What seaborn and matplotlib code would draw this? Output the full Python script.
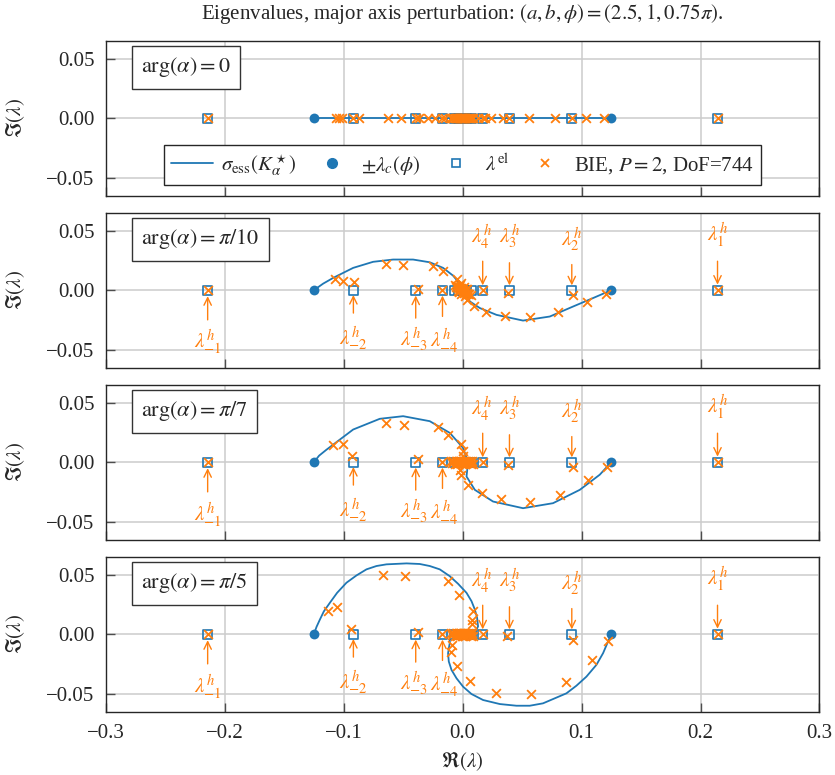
import numpy as np
import seaborn as sns
import matplotlib
matplotlib.use("Agg")
import matplotlib.pyplot as plt
from matplotlib.lines import Line2D

# ---- data ----
panel_labels = [r"$\arg(\alpha)=0$", r"$\arg(\alpha)=\pi/10$",
                r"$\arg(\alpha)=\pi/7$", r"$\arg(\alpha)=\pi/5$"]

lam_c = [-0.125, 0.125]
lam_el = [-0.2143, -0.0918, -0.0394, -0.0169, -0.0072, -0.0031, -0.0013, -0.0006,
          0.0006, 0.0013, 0.0031, 0.0072, 0.0169, 0.0394, 0.0918, 0.2143]

# essential spectrum curves
curve0_x = [-0.125, 0.125]
curve0_y = [0.0, 0.0]
curve1_x = [-0.125, -0.1172, -0.1088, -0.092, -0.0752, -0.0584, -0.0416, -0.0276, -0.0164, -0.008,
            -0.0024, 0.0018, 0.006, 0.0145, 0.0285, 0.0508, 0.0733, 0.0929, 0.1097, 0.125]
curve1_y = [0.0, 0.0055, 0.0103, 0.0187, 0.0238, 0.0257, 0.0257, 0.0234, 0.0187, 0.0122,
            0.0055, -0.001, -0.0094, -0.015, -0.0207, -0.0255, -0.0221, -0.0137, -0.0066, 0.0]
curve2_x = [-0.125, -0.1206, -0.1144, -0.092, -0.0696, -0.050, -0.0276, -0.0108, 0.0004, 0.0046,
            0.0033, 0.0103, 0.0256, 0.0508, 0.076, 0.0985, 0.1153, 0.125]
curve2_y = [0.0, 0.0055, 0.0105, 0.0274, 0.0364, 0.0386, 0.0344, 0.0246, 0.012, 0.0,
            -0.012, -0.0232, -0.033, -0.0386, -0.0344, -0.0232, -0.0105, 0.0]
curve3_x = [-0.125, -0.1228, -0.12, -0.1166, -0.1116, -0.1055, -0.0976, -0.0892, -0.0808, -0.0724,
            -0.064, -0.0471, -0.036, -0.0276, -0.0192, -0.0108, -0.0038, 0.0033, 0.0075, 0.0103,
            0.0122, 0.013, 0.0105, 0.0, -0.0105, -0.0108, -0.0122, -0.0116, -0.0093, -0.0051,
            0.0004, 0.0075, 0.0172, 0.0313, 0.0453, 0.0565, 0.0676, 0.0873, 0.0957, 0.1041,
            0.1125, 0.1181, 0.1223, 0.125]
curve3_y = [0.0, 0.0061, 0.0122, 0.0192, 0.0263, 0.0347, 0.0432, 0.0493, 0.0544, 0.0572,
            0.0586, 0.0594, 0.0589, 0.0572, 0.0544, 0.0487, 0.0423, 0.0347, 0.0277, 0.0207,
            0.0137, 0.0066, 0.001, 0.0, -0.001, -0.0074, -0.0159, -0.0229, -0.030, -0.037,
            -0.044, -0.0502, -0.0552, -0.0586, -0.060, -0.060, -0.058, -0.0496, -0.0432, -0.0356,
            -0.0257, -0.0159, -0.0061, 0.0]

# dense cluster of BIE eigenvalues around the origin
blob_x = [-0.0100, -0.0088, -0.0077, -0.0067, -0.0058, -0.0050, -0.0043, -0.0036, -0.0030, -0.0025,
          -0.0020, -0.0015, -0.0011, -0.0007, -0.0004, -0.0001, 0.0002, 0.0005, 0.0009, 0.0013,
          0.0018, 0.0023, 0.0029, 0.0035, 0.0042, 0.0050, 0.0059, 0.0068, 0.0078, 0.0088]
blob_y = [0.0012, -0.0010, 0.0014, -0.0012, 0.0010, -0.0014, 0.0008, -0.0008, 0.0012, -0.0010,
          0.0006, -0.0006, 0.0010, -0.0012, 0.0004, -0.0004, 0.0008, -0.0010, 0.0012, -0.0008,
          0.0006, -0.0012, 0.0010, -0.0006, 0.0012, -0.0010, 0.0008, -0.0014, 0.0010, -0.0012]
blob1_x = [-0.0068, -0.0055, -0.0045, -0.0036, -0.0028, -0.0020, -0.0012, -0.0005, 0.0, 0.0005,
           0.0012, 0.0020, 0.0028, 0.0036, 0.0045, 0.0055, 0.0068, -0.0030, -0.0015, 0.0015,
           0.0030, -0.0022, 0.0022, -0.0040, 0.0040]
blob1_y = [0.0040, 0.0030, 0.0036, 0.0022, 0.0030, 0.0015, 0.0020, 0.0008, 0.0, -0.0008,
           -0.0020, -0.0015, -0.0030, -0.0022, -0.0036, -0.0030, -0.0040, -0.0012, -0.0028, 0.0028,
           0.0012, 0.0045, -0.0045, -0.0010, 0.0010]

# BIE eigenvalues away from the origin
bie0_x = [-0.2143, -0.1064, -0.1037, -0.1017, -0.0918, -0.0869, -0.0626, -0.0514, -0.0394, -0.0365,
          -0.029, -0.0234, -0.0169, -0.015, 0.013, 0.0169, 0.019, 0.0243, 0.034, 0.0394,
          0.0559, 0.0773, 0.0918, 0.1035, 0.1186, 0.2143]
bie0_y = [0.0] * len(bie0_x)
bie1_x = [-0.2143, -0.1074, -0.1009, -0.0912, -0.064, -0.050, -0.0374, -0.0248, -0.0164, -0.0169,
          -0.0051, -0.001, 0.0033, 0.0095, 0.0169, 0.020, 0.0355, 0.0383, 0.0565, 0.0803,
          0.0929, 0.1046, 0.1203, 0.2143]
bie1_y = [0.0, 0.0097, 0.008, 0.0066, 0.0223, 0.0209, 0.001, 0.0201, 0.0159, 0.0,
          0.0092, 0.006, -0.008, -0.013, 0.0, -0.0179, -0.0213, -0.0024, -0.0221, -0.0179,
          -0.0038, -0.010, -0.0032, 0.0]
bie2_x = [-0.2143, -0.1088, -0.1009, -0.0928, -0.0648, -0.0492, -0.0379, -0.0206, -0.0122, -0.0169,
          -0.001, 0.0004, 0.0002, -0.0024, -0.0017, 0.0046, 0.0159, 0.0169, 0.0327, 0.0383,
          0.0565, 0.0817, 0.0929, 0.1055, 0.121, 0.2143]
bie2_y = [0.0, 0.0148, 0.0156, 0.0049, 0.033, 0.0316, 0.003, 0.0298, 0.0232, 0.0,
          0.0152, 0.0098, 0.0055, -0.0063, -0.0105, -0.019, -0.026, 0.0, -0.031, -0.0021,
          -0.033, -0.0274, -0.004, -0.0148, -0.004, 0.0]
bie3_x = [-0.2143, -0.113, -0.1055, -0.0934, -0.0668, -0.048, -0.0379, -0.0122, -0.0029, -0.0169,
          0.009, 0.0079, 0.0079, -0.0093, -0.0096, -0.0046, 0.0066, 0.0169, 0.0285, 0.0374,
          0.0573, 0.0867, 0.0929, 0.1091, 0.1223, 0.2143]
bie3_y = [0.0, 0.0192, 0.0229, 0.0044, 0.0493, 0.049, 0.0015, 0.0445, 0.0333, 0.0,
          0.0192, 0.0122, 0.0085, -0.0089, -0.0152, -0.0266, -0.039, 0.0, -0.049, -0.0019,
          -0.0502, -0.0398, -0.0046, -0.0215, -0.0061, 0.0]

curves = [(curve0_x, curve0_y), (curve1_x, curve1_y), (curve2_x, curve2_y), (curve3_x, curve3_y)]
bies = [(bie0_x + blob_x, bie0_y + [0.0] * len(blob_x)),
        (bie1_x + blob1_x, bie1_y + blob1_y),
        (bie2_x + blob_x, bie2_y + blob_y),
        (bie3_x + blob_x, bie3_y + blob_y)]

# lambda^h labels: (index n, x of target, text x, text y, arrow start y, arrow end y)
top_marks = [(1, 0.2143, 0.2143, 0.0465, 0.0243, 0.0046), (2, 0.0918, 0.0918, 0.0420, 0.0215, 0.0040),
             (3, 0.0394, 0.0394, 0.0448, 0.0230, 0.0040), (4, 0.0169, 0.0162, 0.0448, 0.0243, 0.0040)]
bot_marks = [(-1, -0.2143, -0.2143, -0.0435, -0.0249, -0.0050),
             (-2, -0.0918, -0.0918, -0.0410, -0.0192, -0.0040),
             (-3, -0.0394, -0.0412, -0.0420, -0.0234, -0.0045),
             (-4, -0.0169, -0.0155, -0.0420, -0.0220, -0.0045)]

blue = "#1f77b4"
orange = "#ff7f0e"
fs = 15

sns.set_theme(style="whitegrid")
plt.rcParams["font.family"] = ["Liberation Serif", "DejaVu Serif"]
plt.rcParams["mathtext.fontset"] = "stix"
plt.rcParams["axes.edgecolor"] = "0.15"
plt.rcParams["axes.linewidth"] = 1.0
plt.rcParams["grid.color"] = "0.8"
plt.rcParams["grid.linewidth"] = 1.1

fig, axes = plt.subplots(4, 1, figsize=(8.35, 7.75), dpi=100, sharex=True)
fig.subplots_adjust(left=0.1266, right=0.9814, top=0.9475, bottom=0.0817, hspace=0.11)

for i, ax in enumerate(axes):
    cx, cy = curves[i]
    sns.lineplot(x=cx, y=cy, sort=False, estimator=None, color=blue, lw=1.3, ax=ax, zorder=2)
    sns.scatterplot(x=lam_c, y=[0.0, 0.0], marker="o", s=50, color=blue, edgecolor=blue,
                    linewidth=0, ax=ax, zorder=3)
    sns.scatterplot(x=lam_el, y=[0.0] * len(lam_el), marker="s", s=42, color=blue,
                    facecolor="none", edgecolor=blue, linewidth=1.2, ax=ax, zorder=4)
    bx, by = bies[i]
    sns.scatterplot(x=bx, y=by, marker="x", s=40, color=orange, linewidth=1.3, ax=ax, zorder=5)

    ax.set_xlim(-0.3, 0.3)
    ax.set_ylim(-0.065, 0.065)
    ax.set_yticks([-0.05, 0.0, 0.05])
    ax.set_xticks([-0.3, -0.2, -0.1, 0.0, 0.1, 0.2, 0.3])
    ax.tick_params(axis="both", which="major", bottom=True, left=True, direction="in",
                   length=6.5, width=1.0, color="0.3", labelsize=fs)
    ax.tick_params(axis="y", pad=8)
    ax.tick_params(axis="x", pad=9)
    ax.set_ylabel(r"$\Im(\lambda)$", fontsize=fs)
    ax.yaxis.set_label_coords(-0.11, 0.5)
    for sp in ax.spines.values():
        sp.set_color("0.15")
        sp.set_linewidth(1.0)

    ax.text(0.05, 0.905, panel_labels[i], transform=ax.transAxes, ha="left", va="top",
            fontsize=16, zorder=10,
            bbox=dict(boxstyle="square,pad=0.42", fc="white", ec="0.2", lw=1.0))

    if i > 0:
        for n, xv, tx, ty, ya, yb in top_marks + bot_marks:
            ax.annotate("", xy=(xv, yb), xytext=(xv, ya),
                        arrowprops=dict(arrowstyle="->,head_length=0.45,head_width=0.22",
                                        color=orange, lw=1.0, shrinkA=0, shrinkB=0))
            ax.text(tx, ty, r"$\lambda_{%d}^{h}$" % n, color=orange, ha="center",
                    va="center", fontsize=15)

axes[-1].set_xlabel(r"$\Re(\lambda)$", fontsize=fs, labelpad=5)

handles = [Line2D([], [], color=blue, lw=1.3),
           Line2D([], [], color=blue, marker="o", ls="none", ms=7),
           Line2D([], [], color=blue, marker="s", ls="none", ms=6.3, mfc="none", mew=1.2),
           Line2D([], [], color=orange, marker="x", ls="none", ms=6, mew=1.3)]
labels = [r"$\sigma_{\rm ess}(K_\alpha^\star)$", r"$\pm\lambda_c(\phi)$",
          r"$\lambda^{\rm el}$", r"BIE, $P=2$, DoF=744"]
leg = axes[0].legend(handles, labels, loc="lower center", ncol=4, fontsize=fs,
                     frameon=True, fancybox=False, framealpha=1.0, edgecolor="0.15",
                     borderaxespad=0.5, columnspacing=0.7, handletextpad=0.4,
                     borderpad=0.35)
leg.get_frame().set_linewidth(1.0)
leg.set_zorder(20)

fig.suptitle(r"Eigenvalues, major axis perturbation: $(a,b,\phi)=(2.5,1,0.75\pi)$.",
             fontsize=fs, x=0.554, y=0.982, va="center")

fig.savefig("out.png", dpi=100)
